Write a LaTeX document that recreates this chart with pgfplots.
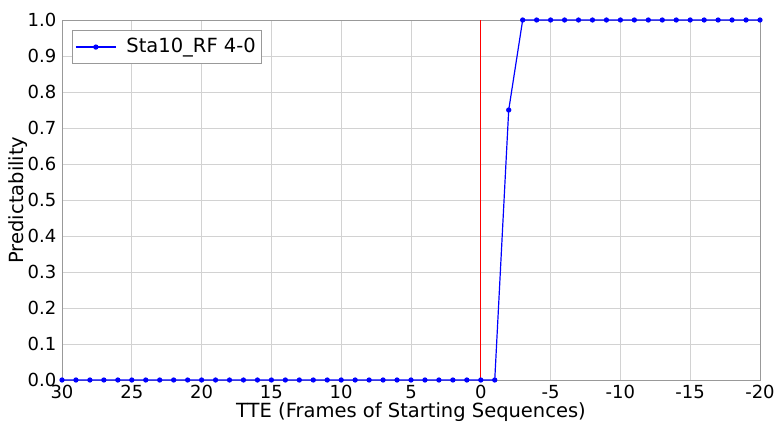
\documentclass[border=0pt]{standalone}
\usepackage{pgfplots}
\pgfplotsset{compat=1.18}
\usepackage{fontspec}
\setmainfont{DejaVu Sans}
\definecolor{mplblue}{RGB}{0,0,255}
\definecolor{mplred}{RGB}{255,0,0}
\begin{document}
\fontsize{19.5bp}{22bp}\selectfont
\begin{tikzpicture}
\useasboundingbox (-62bp,-44bp) rectangle (716bp,380bp);
\begin{axis}[
  scale only axis, width=698bp, height=360bp,
  anchor=south west, at={(0,0)},
  xmin=-20, xmax=30, x dir=reverse, ymin=0, ymax=1,
  xtick={-20,-15,-10,-5,0,5,10,15,20,25,30},
  ytick={0,0.1,0.2,0.3,0.4,0.5,0.6,0.7,0.8,0.9,1.0},
  yticklabel style={/pgf/number format/fixed,/pgf/number format/fixed zerofill,/pgf/number format/precision=1},
  /pgf/number format/assume math mode=true,
  tick style={draw=none},
  grid=major,
  major grid style={gray!35, line width=0.6pt},
  axis line style={gray!80, line width=0.6pt},
  tick label style={font=\fontsize{18bp}{20bp}\selectfont},
  xticklabel style={inner ysep=0bp, yshift=-5bp},
  yticklabel style={xshift=1bp},
  label style={font=\fontsize{19.5bp}{22bp}\selectfont},
  xlabel={TTE (Frames of Starting Sequences)},
  ylabel={Predictability},
  xlabel style={at={(axis description cs:0.5,0)}, anchor=base, inner sep=0bp, yshift=-37bp},
  ylabel style={at={(axis description cs:0,0.5)}, anchor=center, yshift=44bp},
  legend style={at={(0.0143,0.972)}, anchor=north west, draw=gray!80, line width=0.6pt, font=\fontsize{19.5bp}{22bp}\selectfont, inner xsep=3bp, inner ysep=6bp, column sep=8bp},
  legend image code/.code={\draw[mark repeat=2,mark phase=2,#1,draw=mplblue] plot coordinates {(0bp,0bp) (20bp,0bp) (40bp,0bp)};},
  legend cell align=left,
  clip=false,
]
\addplot[mplblue, line width=1.2pt, mark=*, mark size=2bp] coordinates {
(30,0)(29,0)(28,0)(27,0)(26,0)(25,0)(24,0)(23,0)(22,0)(21,0)
(20,0)(19,0)(18,0)(17,0)(16,0)(15,0)(14,0)(13,0)(12,0)(11,0)
(10,0)(9,0)(8,0)(7,0)(6,0)(5,0)(4,0)(3,0)(2,0)(1,0)
(0,0)(-1,0)(-2,0.75)(-3,1)(-4,1)(-5,1)(-6,1)(-7,1)(-8,1)(-9,1)
(-10,1)(-11,1)(-12,1)(-13,1)(-14,1)(-15,1)(-16,1)(-17,1)(-18,1)(-19,1)(-20,1)
};
\addlegendentry{Sta10\_RF 4-0}
\addplot[mplred, line width=1.2pt, forget plot] coordinates {(0,0)(0,1)};
\end{axis}
\end{tikzpicture}
\end{document}
